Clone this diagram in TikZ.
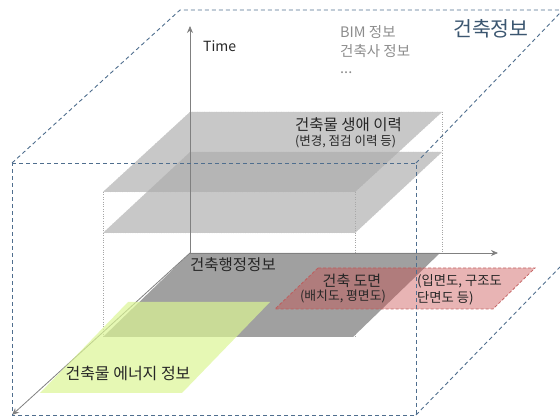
\documentclass[tikz,border=0pt]{standalone}
\usepackage{fontspec}
\setmainfont{Noto Sans CJK KR}
\usetikzlibrary{arrows.meta}
\definecolor{boxblue}{HTML}{4F6E8E}
\definecolor{axisgray}{HTML}{808080}
\definecolor{lgray}{HTML}{ABABAB}
\definecolor{dgray}{HTML}{A0A0A0}
\definecolor{greenf}{HTML}{DBF594}
\definecolor{redf}{HTML}{C84C4C}
\definecolor{redb}{HTML}{C05858}
\definecolor{txt}{HTML}{262626}
\definecolor{infogray}{HTML}{8C8C8C}
\definecolor{titleblue}{HTML}{3B5670}
\tikzset{
  bluedash/.style={draw=boxblue, line width=0.9pt, dash pattern=on 4pt off 3pt},
  axisline/.style={draw=axisgray, line width=0.8pt, -{Stealth[length=7pt,width=6pt]}},
  guide/.style={draw=gray!70, line width=0.4pt, dotted},
  lplane/.style={fill=lgray, fill opacity=0.65, draw=gray!50, line width=0.4pt, dotted},
  dplane/.style={fill=dgray, draw=none},
  gplane/.style={fill=greenf, fill opacity=0.7, draw=none},
  rplane/.style={fill=redf, fill opacity=0.42, draw=redb, draw opacity=0.9, line width=0.8pt, dash pattern=on 3pt off 2pt},
  lbl/.style={inner sep=0pt, text=txt, font=\fontsize{15.5}{17}\selectfont},
  small/.style={inner sep=0pt, text=txt, font=\fontsize{12.5}{14}\selectfont},
  info/.style={inner sep=0pt, text=infogray, font=\fontsize{14.5}{16}\selectfont},
}
\begin{document}
\begin{tikzpicture}[x=1pt,y=-1pt]
\useasboundingbox (0,0) rectangle (560,419);
% coordinates
\coordinate (O) at (190,253);
\coordinate (Ytip) at (190,26);
\coordinate (Xtip) at (498,253);
\coordinate (Ztip) at (12,415);
% dotted guides
\draw[guide] (103,192) -- (103,337);
\draw[guide] (355,192) -- (355,337);
\draw[guide] (442,112) -- (442,253);
% light planes
\path[lplane] (190,112) -- (442,112) -- (355,192) -- (103,192) -- cycle;
\path[lplane] (190,152) -- (442,152) -- (355,233) -- (103,233) -- cycle;
% dark plane
\path[dplane] (190,253) -- (440,253) -- (353,337) -- (103,337) -- cycle;
% axes
\draw[axisline] (O) -- (Ytip);
\draw[axisline] (O) -- (Xtip);
\draw[axisline] (O) -- (Ztip);
% green plane
\path[gplane] (128,302) -- (270,302) -- (182,393) -- (40,393) -- cycle;
% red plane
\path[rplane] (318,268) -- (535,268) -- (493,309) -- (275,309) -- cycle;
% blue dashed box
\coordinate (F1) at (12,163);
\coordinate (F2) at (416,163);
\coordinate (F3) at (416,415);
\coordinate (F4) at (12,415);
\coordinate (B1) at (180,10);
\coordinate (B2) at (560,10);
\coordinate (B3) at (560,13);
\coordinate (B4) at (560,267);
\draw[bluedash] (F1) -- (F2) -- (F3) -- (F4) -- cycle;
\draw[bluedash] (F1) -- (B1) -- (B2);
\draw[bluedash] (F2) -- (B3);
\draw[bluedash] (F3) -- (B4);
% texts
\node[lbl, anchor=west, font=\fontsize{14}{16}\selectfont] (time) at (203,46) {Time};
\node[info, anchor=base west] (bim) at (340,38) {BIM 정보};
\node[info, anchor=base west] (arch) at (340,57) {건축사 정보};
\node[info, anchor=base west] (dots) at (340,74) {...};
\node[lbl, anchor=west, text=titleblue, font=\fontsize{20.5}{22}\selectfont] (title) at (453,29) {건축정보};
\node[lbl, anchor=west] (life) at (295,125) {건축물 생애 이력};
\node[small, anchor=west] (life2) at (295,142) {(변경, 점검 이력 등)};
\node[lbl, anchor=west] (admin) at (190,265) {건축행정정보};
\node[lbl, font=\fontsize{15}{17}\selectfont] (draw1) at (352,281) {건축 도면};
\node[small, font=\fontsize{12.8}{14}\selectfont] (draw2) at (343,296) {(배치도, 평면도)};
\node[small, anchor=west, font=\fontsize{13.3}{15}\selectfont] (draw3) at (417,281) {(입면도, 구조도};
\node[small, anchor=west, font=\fontsize{13.3}{15}\selectfont] (draw4) at (417,298) {단면도 등)};
\node[lbl, font=\fontsize{16}{18}\selectfont] (energy) at (128,373) {건축물 에너지 정보};
\end{tikzpicture}
\end{document}
